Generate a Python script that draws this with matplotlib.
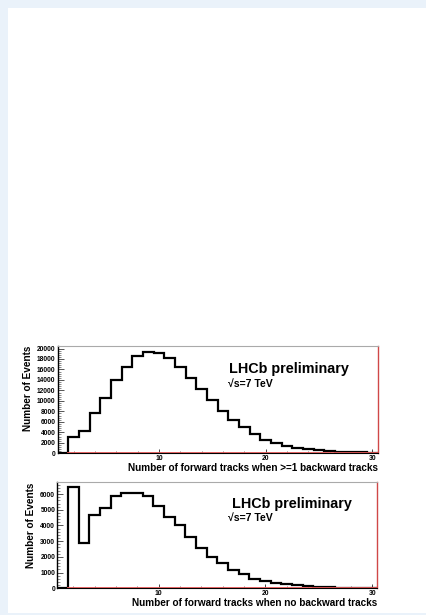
import matplotlib
matplotlib.use("Agg")
import matplotlib.pyplot as plt
from matplotlib.patches import Rectangle
from matplotlib.ticker import MultipleLocator
import numpy as np

plt.rcParams['font.family'] = ['Liberation Sans', 'DejaVu Sans']

# ---- data ----
track_bins = list(range(1, 31))  # bin centres, bins of width 1 from 0.5 to 30.5
events_ge1_backward = [0, 3200, 4300, 7600, 10600, 13900, 16500, 18600, 19300, 19100,
                       18200, 16500, 14400, 12300, 10200, 8100, 6400, 5000, 3600, 2550,
                       1900, 1400, 1050, 800, 600, 450, 320, 230, 160, 110]
events_no_backward = [0, 6430, 2870, 4670, 5100, 5900, 6090, 6070, 5900, 5240,
                      4520, 4030, 3290, 2590, 2010, 1590, 1170, 890, 600, 460,
                      340, 250, 180, 130, 100, 70, 50, 40, 30, 20]
xlabels = ["Number of forward tracks when >=1 backward tracks",
           "Number of forward tracks when no backward tracks"]
ylabel = "Number of Events"
lhcb_text = "LHCb preliminary"
energy_text = "\u221As=7 TeV"

W, H = 427, 615
fig = plt.figure(figsize=(W / 100, H / 100), dpi=100)
fig.patch.set_facecolor('#EAF2FA')
fig.add_artist(Rectangle((8 / W, 2.3 / H), 1 - 8 / W, 1 - 8 / H - 2.3 / H,
                         transform=fig.transFigure, facecolor='white',
                         edgecolor='none', zorder=-10))


def px_axes(left, top, right, bottom):
    return fig.add_axes([left / W, 1 - bottom / H, (right - left) / W, (bottom - top) / H])


centres = np.array(track_bins, dtype=float)
edges = np.concatenate([centres - 0.5, [centres[-1] + 0.5]])

panels = [
    dict(box=(57.5, 346, 377.7, 453.3), data=events_ge1_backward, ymax=20480,
         major=2000, minor=400, xlab=xlabels[0], ylab_x=27.7,
         lhcb=(0.537, 0.786), en=(0.532, 0.643)),
    dict(box=(57.3, 482.3, 377.5, 588.3), data=events_no_backward, ymax=6750,
         major=1000, minor=200, xlab=xlabels[1], ylab_x=31.0,
         lhcb=(0.545, 0.792), en=(0.533, 0.660)),
]

for p in panels:
    l, t, r, b = p['box']
    ax = px_axes(l, t, r, b)
    vals = np.array(p['data'], dtype=float)
    ax.stairs(vals, edges, color='black', lw=1.6, baseline=0, zorder=3)
    ax.plot([edges[1], edges[-1]], [0, 0], color='#e05555', lw=1.3, zorder=4)
    ax.set_xlim(edges[0], edges[-1])
    ax.set_ylim(0, p['ymax'])

    ax.xaxis.set_major_locator(MultipleLocator(10))
    ax.xaxis.set_minor_locator(MultipleLocator(2))
    ax.yaxis.set_major_locator(MultipleLocator(p['major']))
    ax.yaxis.set_minor_locator(MultipleLocator(p['minor']))
    ax.xaxis.set_major_formatter(matplotlib.ticker.FuncFormatter(
        lambda v, pos: f"{int(v)}" if v > 0 else ""))
    ax.yaxis.set_major_formatter(matplotlib.ticker.FuncFormatter(
        lambda v, pos: f"{int(v)}"))

    ax.tick_params(axis='x', which='major', direction='in', length=3.0, width=0.7,
                   color='#444444', labelsize=4.9, pad=1.0)
    ax.tick_params(axis='x', which='minor', direction='in', length=1.8, width=0.6,
                   color='#666666')
    ax.tick_params(axis='y', which='major', direction='in', length=4.5, width=0.7,
                   color='#555555', labelsize=4.8, pad=1.5)
    ax.tick_params(axis='y', which='minor', direction='in', length=2.5, width=0.6,
                   color='#777777')
    for lab in ax.get_xticklabels() + ax.get_yticklabels():
        lab.set_fontweight('bold')

    ax.spines['left'].set_color('black')
    ax.spines['left'].set_linewidth(1.0)
    ax.spines['bottom'].set_color('black')
    ax.spines['bottom'].set_linewidth(0.8)
    ax.spines['top'].set_color('#aaaaaa')
    ax.spines['top'].set_linewidth(0.8)
    ax.spines['right'].set_color('#d04848')
    ax.spines['right'].set_linewidth(1.0)

    ax.set_xlabel(p['xlab'], fontsize=7.2, fontweight='bold', ha='right')
    ax.xaxis.set_label_coords(1.0, -(15.0) / (b - t), transform=ax.transAxes)
    ax.xaxis.label.set_va('center')
    ax.set_ylabel(ylabel, fontsize=7.2, fontweight='bold', ha='right')
    ax.yaxis.set_label_coords((p['ylab_x'] - l) / (r - l), 1.0, transform=ax.transAxes)
    ax.yaxis.label.set_va('center')

    ax.text(p['lhcb'][0], p['lhcb'][1], lhcb_text, transform=ax.transAxes,
            fontsize=10.4, fontweight='bold', ha='left', va='center')
    ax.text(p['en'][0], p['en'][1], energy_text, transform=ax.transAxes,
            fontsize=7.6, fontweight='bold', ha='left', va='center')

fig.savefig('out.png', dpi=100, facecolor=fig.get_facecolor())
